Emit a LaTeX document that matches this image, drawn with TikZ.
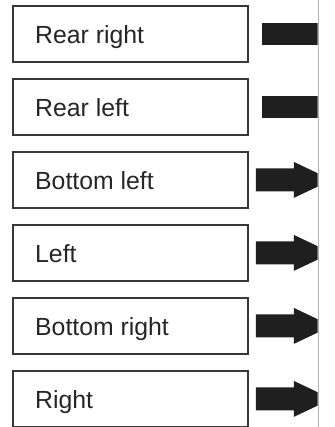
\documentclass[tikz,border=0pt]{standalone}
\usepackage{fontspec}
\setmainfont{Liberation Sans}
\begin{document}
\begin{tikzpicture}[x=1bp,y=-1bp,
  box/.style={draw=black!78, line width=1.8bp, minimum width=235bp, minimum height=56bp, inner sep=0pt, anchor=north west},
  lbl/.style={anchor=base west, inner sep=0pt, text=black!85, font=\fontsize{24.8bp}{29bp}\selectfont},
  blk/.style={fill=black!88, draw=none}]
\useasboundingbox (0,0) rectangle (335,427);
\fill[white] (0,0) rectangle (335,427);
\foreach \i/\t in {0/Rear right,1/Rear left,2/Bottom left,3/Left,4/Bottom right,5/Right}{
  \node[box] (b\i) at (12,{5+73*\i}) {};
  \node[lbl] (t\i) at ([xshift=23bp,yshift=-9.5bp]b\i.west) {\t};
}
\begin{scope}
\clip (0,0) rectangle (317.5,427);
\foreach \i in {0,1}{
  \fill[blk] ([xshift=13bp,yshift=11bp]b\i.east) rectangle ([xshift=80bp,yshift=-11bp]b\i.east);
}
\foreach \i in {2,3,4,5}{
  \fill[blk] ([xshift=7bp,yshift=11.5bp]b\i.east) -- ([xshift=45bp,yshift=11.5bp]b\i.east)
    -- ([xshift=45bp,yshift=18bp]b\i.east) -- ([xshift=83bp,yshift=0bp]b\i.east)
    -- ([xshift=45bp,yshift=-18bp]b\i.east) -- ([xshift=45bp,yshift=-11.5bp]b\i.east)
    -- ([xshift=7bp,yshift=-11.5bp]b\i.east) -- cycle;
}
\end{scope}
\draw[black!30, line width=1bp] (318,0) -- (318,427);
\end{tikzpicture}
\end{document}
